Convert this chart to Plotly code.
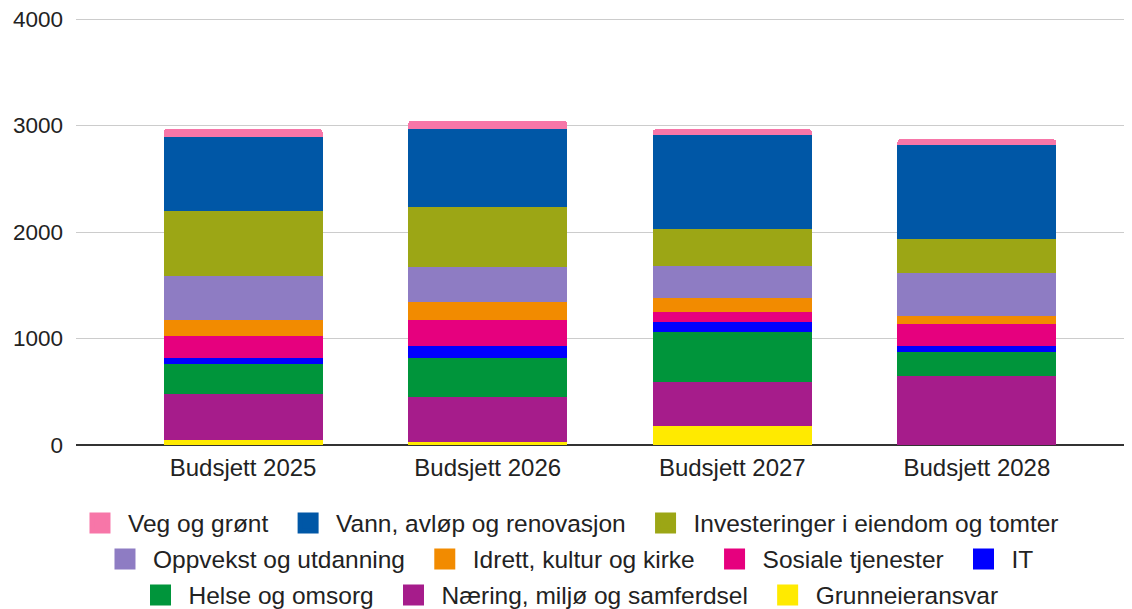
import plotly.graph_objects as go

categories = ["Budsjett 2025", "Budsjett 2026", "Budsjett 2027", "Budsjett 2028"]

grunneieransvar = [45, 28, 178, 0]
naering = [435, 420, 417, 651]
helse = [279, 369, 469, 225]
it = [59, 116, 94, 57]
sosiale = [207, 244, 94, 206]
idrett = [153, 169, 131, 75]
oppvekst = [410, 322, 301, 398]
investeringer = [607, 567, 344, 322]
vann = [698, 732, 883, 883]
veg = [72, 75, 53, 53]

y_ticks = [0, 1000, 2000, 3000, 4000]

# stacking order bottom -> top
series = [
    ("Grunneieransvar", grunneieransvar, "#ffea00"),
    ("Næring, miljø og samferdsel", naering, "#a61c8b"),
    ("Helse og omsorg", helse, "#00953b"),
    ("IT", it, "#0000ff"),
    ("Sosiale tjenester", sosiale, "#e6007e"),
    ("Idrett, kultur og kirke", idrett, "#f28b00"),
    ("Oppvekst og utdanning", oppvekst, "#8e7cc3"),
    ("Investeringer i eiendom og tomter", investeringer, "#9ca615"),
    ("Vann, avløp og renovasjon", vann, "#0057a6"),
    ("Veg og grønt", veg, "#f776a8"),
]

legend_rows = [
    ["Veg og grønt", "Vann, avløp og renovasjon", "Investeringer i eiendom og tomter"],
    ["Oppvekst og utdanning", "Idrett, kultur og kirke", "Sosiale tjenester", "IT"],
    ["Helse og omsorg", "Næring, miljø og samferdsel", "Grunneieransvar"],
]

fig = go.Figure()
colors = {}
for name, vals, col in series:
    colors[name] = col
    fig.add_trace(go.Bar(
        x=categories, y=vals, name=name, marker=dict(color=col, line=dict(width=0)),
        showlegend=False,
    ))

legend_ids = ["legend", "legend2", "legend3"]
pad = "\u00a0"
for row, lid in zip(legend_rows, legend_ids):
    for i, name in enumerate(row):
        label = name + (pad if i < len(row) - 1 else "")
        fig.add_trace(go.Scatter(
            x=[None], y=[None], mode="markers", name=label, legend=lid,
            marker=dict(symbol="square", size=16, color=colors[name],
                        line=dict(width=5, color=colors[name])),
            showlegend=True,
        ))

font_family = "Arial, 'Liberation Sans', sans-serif"
ph = 428.0
def ypos(px):
    return (445.0 - px) / ph

leg_common = dict(orientation="h", xanchor="center", yanchor="middle", x=0.4659,
                  traceorder="normal",
                  font=dict(size=24.5, color="#222222", family=font_family),
                  itemwidth=46, bgcolor="rgba(0,0,0,0)")

fig.update_layout(
    width=1124, height=601,
    margin=dict(l=68, r=0, t=9, b=164, autoexpand=False),
    paper_bgcolor="white", plot_bgcolor="white",
    barmode="stack", bargap=0.35, barcornerradius=3,
    font=dict(family=font_family, size=22, color="#222222"),
    legend=dict(**leg_common, y=ypos(523)),
    legend2=dict(**leg_common, y=ypos(559)),
    legend3=dict(**leg_common, y=ypos(595)),
    xaxis=dict(range=[-0.683, 3.634], showgrid=False, showline=False, zeroline=False,
               automargin=False,
               tickfont=dict(size=24, color="#222222"), ticks="", ticklabelstandoff=6),
    yaxis=dict(range=[0, 4019], tickvals=y_ticks, showgrid=True, gridcolor="#cccccc",
               gridwidth=1, zeroline=True, zerolinecolor="#333333", zerolinewidth=2,
               automargin=False, ticklabeloverflow="allow",
               showline=False, ticks="", tickfont=dict(size=22.5, color="#222222"),
               ticklabelstandoff=12),
)

fig.write_html("out.html")
